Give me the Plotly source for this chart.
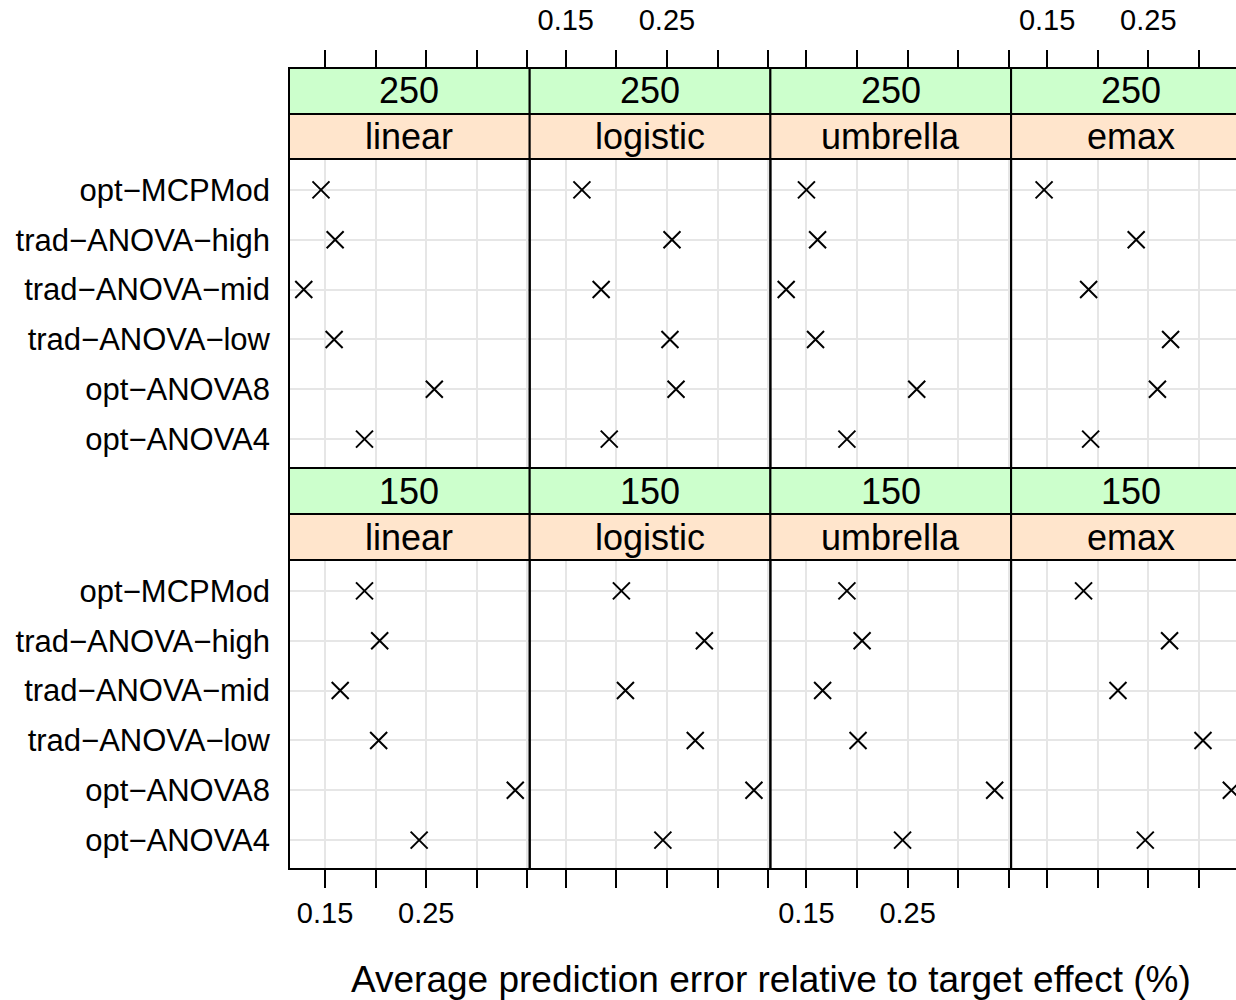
import plotly.graph_objects as go

# ---------------- data ----------------
methods = ["opt−MCPMod", "trad−ANOVA−high", "trad−ANOVA−mid",
           "trad−ANOVA−low", "opt−ANOVA8", "opt−ANOVA4"]
models = ["linear", "logistic", "umbrella", "emax"]
sizes = ["250", "150"]

err_250_linear = [0.146, 0.160, 0.129, 0.159, 0.258, 0.189]
err_250_logistic = [0.166, 0.255, 0.185, 0.253, 0.259, 0.193]
err_250_umbrella = [0.150, 0.161, 0.130, 0.159, 0.259, 0.190]
err_250_emax = [0.147, 0.238, 0.191, 0.272, 0.259, 0.193]

err_150_linear = [0.189, 0.204, 0.165, 0.203, 0.338, 0.243]
err_150_logistic = [0.205, 0.287, 0.209, 0.278, 0.336, 0.246]
err_150_umbrella = [0.190, 0.205, 0.166, 0.201, 0.336, 0.245]
err_150_emax = [0.186, 0.271, 0.220, 0.304, 0.332, 0.247]

tick_vals = [0.15, 0.20, 0.25, 0.30, 0.35]
tick_text = ["0.15", "", "0.25", "", ""]
x_title = "Average prediction error relative to target effect (%)"

data = {
    "250": {"linear": err_250_linear, "logistic": err_250_logistic,
            "umbrella": err_250_umbrella, "emax": err_250_emax},
    "150": {"linear": err_150_linear, "logistic": err_150_logistic,
            "umbrella": err_150_umbrella, "emax": err_150_emax},
}

# ---------------- layout geometry (pixels) ----------------
W, H = 1236, 1000
PANEL_LEFT = 289.0
PANEL_W = 240.7
X_MIN = 0.1144
PX_PER_UNIT = 1012.0
ROW_PANEL = [(159, 468), (560, 869)]          # top, bottom of panel
ROW_STRIP = [(68, 114, 159), (468, 514, 560)]  # green top, split, peach bottom
FONT = "Liberation Sans, Arial, sans-serif"
GREEN = "#CCFFCC"
PEACH = "#FFE5CC"
GRID = "#E6E6E6"

fig = go.Figure()
layout = {}
shapes = []
annotations = []

for r, size in enumerate(sizes):
    ptop, pbot = ROW_PANEL[r]
    for c, model in enumerate(models):
        n = r * 4 + c + 1
        xa = "x" if n == 1 else f"x{n}"
        ya = "y" if n == 1 else f"y{n}"
        xkey = "xaxis" if n == 1 else f"xaxis{n}"
        ykey = "yaxis" if n == 1 else f"yaxis{n}"

        left_px = PANEL_LEFT + PANEL_W * c
        right_px = PANEL_LEFT + PANEL_W * (c + 1)
        vis_right = min(right_px, W)
        x_max = X_MIN + (vis_right - left_px) / PX_PER_UNIT

        fig.add_trace(go.Scatter(
            x=data[size][model], y=methods, mode="markers",
            marker=dict(symbol="x-thin", size=17, color="black",
                        line=dict(width=2, color="black")),
            xaxis=xa, yaxis=ya, showlegend=False, hoverinfo="x+y",
        ))

        xcfg = dict(
            domain=[left_px / W, vis_right / W], range=[X_MIN, x_max],
            tickmode="array", tickvals=tick_vals,
            ticktext=tick_text, ticks="outside", ticklen=18, tickwidth=2,
            tickcolor="black",
            tickfont=dict(size=29, color="black", family=FONT),
            showgrid=True, gridcolor=GRID, gridwidth=1.5, zeroline=False,
            showline=False, automargin=False,
        )
        if r == 0:
            xcfg.update(side="top", anchor="free",
                        position=1 - ROW_STRIP[0][0] / H,
                        showticklabels=(c in (1, 3)),
                        ticklabelstandoff=8)
        else:
            xcfg.update(side="bottom", anchor=ya,
                        showticklabels=(c in (0, 2)))
        layout[xkey] = xcfg

        layout[ykey] = dict(
            domain=[1 - pbot / H, 1 - ptop / H], anchor=xa, type="category",
            categoryorder="array", categoryarray=methods,
            range=[5.58, -0.62], ticks="", showticklabels=(c == 0),
            tickfont=dict(size=31, color="black", family=FONT),
            ticklabelstandoff=18, automargin=False,
            showgrid=True, gridcolor=GRID, gridwidth=1.5, zeroline=False,
            showline=False,
        )

        # panel border
        shapes.append(dict(type="rect", xref="paper", yref="paper",
                           x0=left_px / W, x1=right_px / W,
                           y0=1 - pbot / H, y1=1 - ptop / H,
                           line=dict(color="black", width=2),
                           fillcolor="rgba(0,0,0,0)", layer="above"))
        # strips
        s_top, s_mid, s_bot = ROW_STRIP[r]
        shapes.append(dict(type="rect", xref="paper", yref="paper",
                           x0=left_px / W, x1=right_px / W,
                           y0=1 - s_mid / H, y1=1 - s_top / H,
                           line=dict(color="black", width=2),
                           fillcolor=GREEN, layer="below"))
        shapes.append(dict(type="rect", xref="paper", yref="paper",
                           x0=left_px / W, x1=right_px / W,
                           y0=1 - s_bot / H, y1=1 - s_mid / H,
                           line=dict(color="black", width=2),
                           fillcolor=PEACH, layer="below"))
        cx = (left_px + right_px) / 2 / W
        annotations.append(dict(text=size, xref="paper", yref="paper",
                                x=cx, y=1 - (s_top + s_mid) / 2 / H,
                                showarrow=False, xanchor="center",
                                yanchor="middle",
                                font=dict(size=36, color="black", family=FONT)))
        annotations.append(dict(text=model, xref="paper", yref="paper",
                                x=cx, y=1 - (s_mid + s_bot) / 2 / H,
                                showarrow=False, xanchor="center",
                                yanchor="middle",
                                font=dict(size=36, color="black", family=FONT)))

annotations.append(dict(text=x_title, xref="paper", yref="paper",
                        x=771 / W, y=1 - 979 / H, showarrow=False,
                        xanchor="center", yanchor="middle",
                        font=dict(size=37, color="black", family=FONT)))

fig.update_layout(
    width=W, height=H, margin=dict(l=0, r=0, t=0, b=0, autoexpand=False),
    plot_bgcolor="white", paper_bgcolor="white",
    font=dict(family=FONT, color="black"),
    shapes=shapes, annotations=annotations, **layout,
)

fig.write_html(
    "out.html",
    config={"displayModeBar": False},
    post_script="document.body.style.margin='0';"
                "document.body.style.overflow='hidden';",
)
